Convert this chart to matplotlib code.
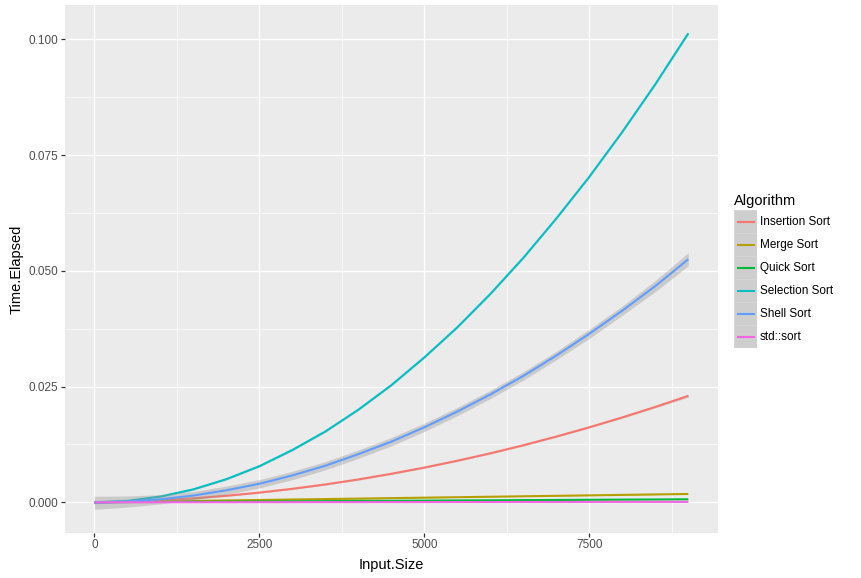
import matplotlib
matplotlib.use('Agg')
import matplotlib.pyplot as plt
from matplotlib.patches import Rectangle

# ---------------- data ----------------
input_size = [0, 500, 1000, 1500, 2000, 2500, 3000, 3500, 4000, 4500,
              5000, 5500, 6000, 6500, 7000, 7500, 8000, 8500, 9000]

insertion_sort = [0.0, 0.00016, 0.00044, 0.00086, 0.00142, 0.0021, 0.00292, 0.00386,
                  0.00494, 0.00616, 0.0075, 0.00898, 0.01058, 0.01232, 0.0142, 0.0162,
                  0.01834, 0.0206, 0.0230]
merge_sort = [0.0, 0.0001, 0.0002, 0.0003, 0.0004, 0.0005, 0.0006, 0.0007, 0.0008, 0.0009,
              0.001, 0.0011, 0.0012, 0.0013, 0.0014, 0.0015, 0.0016, 0.0017, 0.0018]
quick_sort = [0.0, 0.00004, 0.00007, 0.00011, 0.00014, 0.00018, 0.00021, 0.00025, 0.00029,
              0.00032, 0.00036, 0.0004, 0.00043, 0.00047, 0.0005, 0.00054, 0.00058,
              0.00061, 0.00065]
selection_sort = [0.0, 0.0003, 0.00125, 0.0028, 0.005, 0.0078, 0.0113, 0.0153, 0.020,
                  0.0253, 0.0313, 0.0378, 0.045, 0.0528, 0.0613, 0.0703, 0.080, 0.0903,
                  0.1013]
shell_sort = [-0.0001, 0.00016, 0.00065, 0.00146, 0.0026, 0.0040, 0.0058, 0.0079, 0.0104,
              0.0131, 0.0162, 0.0196, 0.0233, 0.0273, 0.0317, 0.0364, 0.0414, 0.0467,
              0.0525]
std_sort = [0.0, 0.00001, 0.00001, 0.00002, 0.00002, 0.00003, 0.00003, 0.00004, 0.00004,
            0.00005, 0.00005, 0.00006, 0.00006, 0.00007, 0.00007, 0.00008, 0.00008,
            0.00009, 0.00009]

# half-widths of the confidence bands
insertion_se = [0.0003, 0.00025, 0.0002, 0.0002, 0.00015, 0.00015, 0.00015, 0.00015, 0.00015,
                0.00015, 0.00015, 0.00015, 0.00015, 0.00015, 0.00015, 0.00015, 0.0002,
                0.0002, 0.0003]
merge_se = [0.00005] * 19
quick_se = [0.00005] * 19
selection_se = [0.0003, 0.00025, 0.0002, 0.0002, 0.0002, 0.0002, 0.0002, 0.0002, 0.0002,
                0.0002, 0.0002, 0.0002, 0.0002, 0.0002, 0.0002, 0.0002, 0.0002, 0.00025,
                0.0003]
shell_se = [0.0014, 0.0012, 0.001, 0.0009, 0.0009, 0.0009, 0.0009, 0.0009, 0.0009, 0.0009,
            0.0009, 0.0009, 0.0009, 0.0009, 0.0009, 0.001, 0.001, 0.0012, 0.0014]
std_se = [0.00005] * 19

algorithms = ["Insertion Sort", "Merge Sort", "Quick Sort", "Selection Sort",
              "Shell Sort", "std::sort"]
series = [insertion_sort, merge_sort, quick_sort, selection_sort, shell_sort, std_sort]
series_se = [insertion_se, merge_se, quick_se, selection_se, shell_se, std_se]
colors = ['#F8766D', '#B79F00', '#00BA38', '#00BFC4', '#619CFF', '#F564E3']

x_ticks = [0, 2500, 5000, 7500]
x_tick_labels = ['0', '2500', '5000', '7500']
x_minor = [1250, 3750, 6250, 8750]
y_ticks = [0.000, 0.025, 0.050, 0.075, 0.100]
y_tick_labels = ['0.000', '0.025', '0.050', '0.075', '0.100']
y_minor = [0.0125, 0.0375, 0.0625, 0.0875]

# ---------------- figure ----------------
W, H = 861, 578
fig = plt.figure(figsize=(W / 100, H / 100), dpi=100)
plt.rcParams['font.family'] = ['Liberation Sans', 'DejaVu Sans']

left, right, top, bottom = 64.7, 718.0, 5.0, 532.7
ax = fig.add_axes([left / W, (H - bottom) / H, (right - left) / W, (bottom - top) / H])
ax.set_facecolor('#EBEBEB')
for s in ax.spines.values():
    s.set_visible(False)

ax.set_xlim(-450, 9450)
ax.set_ylim(-0.006566, 0.10741)

ax.set_xticks(x_ticks)
ax.set_xticklabels(x_tick_labels)
ax.set_xticks(x_minor, minor=True)
ax.set_yticks(y_ticks)
ax.set_yticklabels(y_tick_labels)
ax.set_yticks(y_minor, minor=True)

ax.grid(which='major', color='white', linewidth=1.0)
ax.grid(which='minor', color='white', linewidth=0.5)
ax.set_axisbelow(True)

ax.tick_params(which='major', length=2.7, width=0.9, color='#333333',
               labelsize=8.45, labelcolor='#4D4D4D', pad=2.0)
ax.tick_params(which='minor', length=0, width=0)

z = 2
for vals, se, col in zip(series, series_se, colors):
    lo = [v - e for v, e in zip(vals, se)]
    hi = [v + e for v, e in zip(vals, se)]
    ax.fill_between(input_size, lo, hi, color='#999999', alpha=0.4, linewidth=0, zorder=z)
    ax.plot(input_size, vals, color=col, linewidth=1.5, zorder=z + 1,
            solid_capstyle='butt')
    z += 2

# axis titles
fig.text(391.3 / W, 1 - 568.5 / H, 'Input.Size', ha='center', va='baseline',
         fontsize=10.56, color='black')
fig.text(16.5 / W, 1 - 268.9 / H, 'Time.Elapsed', ha='center', va='center',
         rotation=90, fontsize=10.56, color='black')

# ---------------- legend ----------------
lax = fig.add_axes([0, 0, 1, 1])
lax.set_xlim(0, W)
lax.set_ylim(H, 0)
lax.axis('off')
lax.patch.set_alpha(0)

lax.text(734, 205, 'Algorithm', ha='left', va='baseline', fontsize=10.56, color='black')
key_x, key_y0, key_w, key_h = 734.0, 210.0, 22.7, 23.05
for i, (name, col) in enumerate(zip(algorithms, colors)):
    y0 = key_y0 + i * key_h
    lax.add_patch(Rectangle((key_x, y0), key_w, key_h, facecolor='#F2F2F2',
                            edgecolor='white', linewidth=0.6))
    lax.add_patch(Rectangle((key_x, y0), key_w, key_h, facecolor='#999999',
                            alpha=0.4, linewidth=0))
    yc = y0 + key_h / 2
    lax.plot([key_x + 3, key_x + 21], [yc, yc], color=col, linewidth=1.5,
             solid_capstyle='butt')
    lax.text(760, yc, name, ha='left', va='center', fontsize=8.45, color='black')

fig.savefig('out.png', dpi=100)
